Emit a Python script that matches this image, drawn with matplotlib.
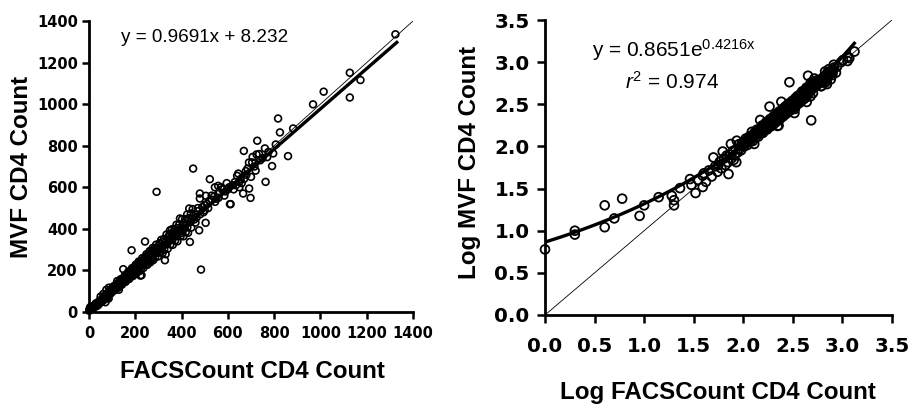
import matplotlib
matplotlib.use("Agg")
import numpy as np
import matplotlib.pyplot as plt

plt.rcParams['mathtext.fontset'] = 'custom'
plt.rcParams['mathtext.rm'] = 'Liberation Sans'
plt.rcParams['mathtext.it'] = 'Liberation Sans:italic'

# ---- data ----
facs_low = [
    1, 2, 2, 4, 4, 5, 6, 9, 10, 14,
    19, 20, 20, 23, 29, 39, 39, 40, 50, 56,
    62, 71, 75, 80, 85, 86, 30, 33, 35, 42,
    45, 48, 52, 55, 58, 60, 64, 66, 68, 70,
    73, 76, 78, 82, 84, 88,
]
mvf_low = [
    6, 9, 10, 20, 11, 14, 24, 15, 20, 25,
    26, 23, 20, 32, 41, 33, 45, 48, 74, 60,
    87, 47, 107, 69, 65, 117, 35, 28, 40, 38,
    52, 44, 58, 50, 66, 55, 72, 60, 78, 65,
    80, 72, 88, 78, 92, 85,
]
facs_mid = [
    90, 92, 95, 96, 98, 100, 102, 104, 106, 108,
    110, 112, 114, 116, 118, 120, 122, 124, 125, 127,
    129, 130, 133, 135, 137, 140, 142, 145, 146, 148,
    150, 152, 155, 156, 158, 160, 162, 164, 165, 168,
    170, 172, 174, 175, 178, 180, 182, 184, 186, 188,
    190, 192, 194, 195, 198, 200, 202, 203, 205, 206,
    208, 210, 212, 214, 215, 216, 218, 220, 222, 224,
    225, 227, 228, 230, 233, 235, 236, 238, 240, 242,
    244, 245, 248, 250, 252, 253, 255, 256, 258, 260,
    262, 263, 265, 266, 268, 270, 272, 273, 275, 276,
    278, 280, 282, 284, 286, 288, 290, 292, 295, 298,
    300, 302, 305, 308, 310, 312, 315, 318, 320, 322,
    324, 325, 328, 330, 331, 335, 338, 340, 342, 345,
    348, 350, 352, 355, 358, 360, 362, 365, 368, 370,
    372, 375, 378, 380, 382, 385, 388, 390, 393, 393,
    396, 400, 402, 405, 408, 410, 412, 415, 418, 420,
    424, 425, 428, 430, 433, 436, 438, 440, 442, 445,
    448, 450,
]
mvf_mid = [
    106, 94, 90, 107, 103, 114, 100, 111, 124, 110,
    104, 124, 119, 132, 114, 127, 149, 124, 116, 139,
    107, 146, 127, 142, 158, 140, 131, 158, 150, 206,
    143, 158, 177, 154, 145, 173, 165, 182, 156, 174,
    194, 170, 159, 189, 181, 199, 172, 297, 211, 184,
    173, 206, 196, 215, 186, 206, 228, 199, 186, 220,
    210, 231, 199, 220, 243, 211, 197, 234, 175, 245,
    210, 177, 234, 259, 227, 212, 251, 239, 263, 339,
    228, 251, 278, 243, 227, 268, 255, 279, 240, 265,
    293, 255, 239, 282, 268, 294, 253, 278, 308, 268,
    250, 297, 281, 308, 265, 293, 324, 578, 285, 267,
    317, 301, 331, 286, 315, 347, 304, 284, 337, 320,
    351, 300, 249, 335, 278, 373, 326, 304, 360, 343,
    376, 393, 325, 359, 398, 346, 323, 384, 365, 400,
    343, 379, 420, 365, 340, 404, 384, 421, 377, 450,
    365, 404, 446, 389, 364, 429, 407, 447, 384, 423,
    469, 407, 381, 451, 498, 337, 433, 474, 406, 449,
    495, 690,
]
facs_high = [
    455, 460, 465, 470, 476, 479, 479, 484, 490, 495,
    500, 504, 505, 510, 520, 522, 530, 540, 550, 558,
    558, 565, 575, 590, 600, 609, 612, 620, 630, 640,
    645, 649, 655, 666, 669, 678, 680, 691, 692, 698,
    707, 715, 724, 727, 740, 760, 763, 775, 791, 796,
    807, 817, 825, 860, 882, 968, 1014, 1127, 1127, 1173,
    1324, 544, 460, 470, 480, 500, 515, 530, 545, 560,
    570, 585, 595, 605, 625, 635, 650, 660, 670, 685,
    700, 705, 720, 735, 750, 770,
]
mvf_high = [
    445, 470, 455, 485, 393, 570, 546, 204, 505, 480,
    515, 429, 559, 520, 535, 639, 540, 555, 545, 570,
    607, 575, 590, 580, 590, 519, 519, 610, 625, 655,
    666, 626, 640, 570, 775, 678, 660, 719, 594, 549,
    746, 700, 758, 824, 730, 787, 626, 770, 702, 763,
    806, 931, 864, 750, 883, 999, 1060, 1151, 1032, 1116,
    1336, 600, 430, 500, 470, 490, 500, 560, 530, 550,
    600, 560, 620, 600, 590, 610, 600, 620, 640, 690,
    650, 720, 680, 760, 740, 745,
]

lin_slope, lin_intercept = 0.9691, 8.232
exp_a, exp_b = 0.8651, 0.4216
r_squared = 0.974
lin_ticks = [0, 200, 400, 600, 800, 1000, 1200, 1400]
log_ticks = [0.0, 0.5, 1.0, 1.5, 2.0, 2.5, 3.0, 3.5]

W, H = 909, 407
fig = plt.figure(figsize=(W / 100, H / 100), dpi=100)


def px(x, y):
    return x / W, 1 - y / H


ax1 = fig.add_axes([89 / W, 1 - 312 / H, 324 / W, 291 / H])
ax2 = fig.add_axes([545 / W, 1 - 315 / H, 347 / W, 295 / H])

for ax in (ax1, ax2):
    ax.spines['top'].set_visible(False)
    ax.spines['right'].set_visible(False)
    for s in ('left', 'bottom'):
        ax.spines[s].set_linewidth(2.0)

# ---- left panel ----
facs = np.array(facs_low + facs_mid + facs_high, dtype=float)
mvf = np.array(mvf_low + mvf_mid + mvf_high, dtype=float)
ax1.plot([0, 1400], [0, 1400], color='black', lw=0.6, zorder=2)
xfit = np.array([0, 1330])
ax1.plot(xfit, lin_slope * xfit + lin_intercept, color='black', lw=2.4, zorder=2)
ax1.scatter(facs, mvf, s=24, facecolors='none', edgecolors='black',
            linewidths=1.2, clip_on=False, zorder=3)
ax1.set_xlim(0, 1400)
ax1.set_ylim(0, 1400)
ax1.set_xticks(lin_ticks)
ax1.set_yticks(lin_ticks)
ax1.set_xticklabels([str(t) for t in lin_ticks])
ax1.set_yticklabels([str(t) for t in lin_ticks])
ax1.tick_params(axis='both', direction='out', length=5, width=1.8, labelsize=10.5)
ax1.tick_params(axis='x', pad=5)
ax1.tick_params(axis='y', pad=3)

# ---- right panel ----
lx = np.log10(facs)
ly = np.log10(mvf)
ax2.plot([0, 3.5], [0, 3.5], color='black', lw=0.6, zorder=2)
xc = np.linspace(0, 3.12, 200)
ax2.plot(xc, exp_a * np.exp(exp_b * xc), color='black', lw=2.4, zorder=2)
ax2.scatter(lx, ly, s=40, facecolors='none', edgecolors='black',
            linewidths=1.3, clip_on=False, zorder=3)
ax2.set_xlim(0, 3.5)
ax2.set_ylim(0, 3.5)
ax2.set_xticks(log_ticks)
ax2.set_yticks(log_ticks)
ax2.set_xticklabels([f"{t:.1f}" for t in log_ticks])
ax2.set_yticklabels([f"{t:.1f}" for t in log_ticks])
ax2.tick_params(axis='both', direction='out', length=6, width=1.8, labelsize=14.3)
ax2.tick_params(axis='x', pad=10)
ax2.tick_params(axis='y', pad=5)

for ax in (ax1, ax2):
    for lab in ax.get_xticklabels() + ax.get_yticklabels():
        lab.set_fontfamily('DejaVu Sans')
        lab.set_fontweight('bold')

# ---- labels ----
lab_font = dict(family='Liberation Sans', weight='bold', size=17.4)
fig.text(*px(252.5, 371), 'FACSCount CD4 Count', ha='center', va='center', **lab_font)
fig.text(*px(22, 167), 'MVF CD4 Count', ha='center', va='center', rotation=90, **lab_font)
fig.text(*px(717.5, 392), 'Log FACSCount CD4 Count', ha='center', va='center', **lab_font)
fig.text(*px(470, 162), 'Log MVF CD4 Count', ha='center', va='center', rotation=90, **lab_font)

eq_font = dict(family='Liberation Sans', size=13.6)
fig.text(*px(205, 37), f'y = {lin_slope}x + {lin_intercept}', ha='center', va='center', **eq_font)
eq2 = dict(family='Liberation Sans', size=15)
fig.text(*px(592, 50), f'y = {exp_a}e' + r'$^{\mathrm{' + f'{exp_b}' + r'x}}$',
         ha='left', va='center', **eq2)
fig.text(*px(625, 82), r'$\mathit{r}^{\mathrm{2}}$' + f' = {r_squared}', ha='left', va='center', **eq2)

fig.savefig('out.png', dpi=100)
